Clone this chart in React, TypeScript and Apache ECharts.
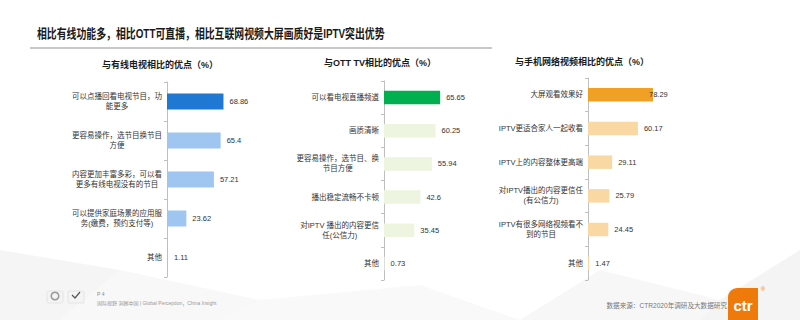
import React, { useEffect, useRef } from "react";
import * as echarts from "echarts";

const mainTitle = "相比有线功能多，相比OTT可直播，相比互联网视频大屏画质好是IPTV突出优势";

const panelTitles = ["与有线电视相比的优点（%）", "与OTT TV相比的优点（%）", "与手机网络视频相比的优点（%）"];

const cableCats = [
  "可以点播回看电视节目，功\n能更多",
  "更容易操作，选节目换节目\n方便",
  "内容更加丰富多彩，可以看\n更多有线电视没有的节目",
  "可以提供家庭场景的应用服\n务(缴费，预约支付等)",
  "其他",
];
const cableVals = [68.86, 65.4, 57.21, 23.62, 1.11];

const ottCats = [
  "可以看电视直播频道",
  "画质清晰",
  "更容易操作，选节目、换\n节目方便",
  "播出稳定流畅不卡顿",
  "对IPTV 播出的内容更信\n任(公信力)",
  "其他",
];
const ottVals = [65.65, 60.25, 55.94, 42.6, 35.45, 0.73];

const mobileCats = [
  "大屏观看效果好",
  "IPTV更适合家人一起收看",
  "IPTV上的内容整体更高端",
  "对IPTV播出的内容更信任\n(有公信力)",
  "IPTV有很多网络视频看不\n到的节目",
  "其他",
];
const mobileVals = [78.29, 60.17, 29.11, 25.79, 24.45, 1.47];

const sourceText = "数据来源：CTR2020年调研及大数据研究";
const sloganText = "国际视野 洞察中国 | Global Perception，China Insight";
const pageText = "P 4";

const FONT = "'Liberation Sans', 'Noto Sans CJK SC', sans-serif";
const LABEL_SIZE = 7.5;

export default function App() {
  const ref = useRef<HTMLDivElement>(null);

  useEffect(() => {
    document.body.style.margin = "0";
    if (!ref.current) return;
    const chart = echarts.init(ref.current, null, { renderer: "svg" });

    const canvas = document.createElement("canvas");
    const ctx = canvas.getContext("2d") as CanvasRenderingContext2D;
    ctx.font = `${LABEL_SIZE}px ${FONT}`;

    // centred multi-line category labels: pad each line so it sits in the middle of its block
    const buildRich = (cats: string[]) => {
      const rich: any = {};
      cats.forEach((c, idx) => {
        const lines = c.split("\n");
        const ws = lines.map((l) => ctx.measureText(l).width);
        const W = Math.max(...ws);
        lines.forEach((_, k) => {
          rich[`r${idx}_${k}`] = {
            align: "left",
            fontSize: LABEL_SIZE,
            lineHeight: 10,
            color: "#333333",
            fontFamily: FONT,
            padding: [0, 0, 0, (W - ws[k]) / 2],
          };
        });
      });
      return rich;
    };

    const panels = [
      { cats: cableCats, vals: cableVals, main: "#1F78D1", light: "#9EC6F0", grid: { left: 167, top: 82, width: 82, height: 195 }, barWidth: 16 },
      { cats: ottCats, vals: ottVals, main: "#00B050", light: "#EDF4E0", grid: { left: 384, top: 81, width: 85.5, height: 199 }, barWidth: 13.5 },
      { cats: mobileCats, vals: mobileVals, main: "#F0A024", light: "#FAD8A4", grid: { left: 588, top: 78, width: 83, height: 202 }, barWidth: 13.5 },
    ];

    const titlePos = [
      { x: 160, y: 65 },
      { x: 380, y: 63 },
      { x: 582, y: 62 },
    ];

    const option: any = {
      animation: false,
      backgroundColor: "#ffffff",
      textStyle: { fontFamily: FONT },
      grid: panels.map((p) => ({ ...p.grid, containLabel: false })),
      xAxis: panels.map((_, i) => ({
        type: "value",
        gridIndex: i,
        min: 0,
        max: 100,
        show: false,
      })),
      yAxis: panels.map((p, i) => ({
        type: "category",
        gridIndex: i,
        inverse: true,
        data: p.cats,
        axisLine: { show: true, lineStyle: { color: "#BFBFBF", width: 1 } },
        axisTick: { show: true, length: 3, lineStyle: { color: "#BFBFBF" } },
        axisLabel: {
          margin: 5,
          formatter: (v: string, idx: number) =>
            v
              .split("\n")
              .map((l, k) => `{r${idx}_${k}|${l}}`)
              .join("\n"),
          rich: buildRich(p.cats),
        },
      })),
      series: panels.map((p, i) => ({
        type: "bar",
        xAxisIndex: i,
        yAxisIndex: i,
        barWidth: p.barWidth,
        data: p.vals.map((v, j) => {
          const item: any = {
            value: v,
            itemStyle: { color: j === 0 ? p.main : p.light },
          };
          if (i === 2 && j === 0) item.label = { distance: -4 };
          return item;
        }),
        label: {
          show: true,
          position: "right",
          distance: 6,
          fontSize: LABEL_SIZE,
          color: "#333333",
          fontFamily: FONT,
          formatter: "{c}",
        },
      })),
      graphic: [
        // faint background facets
        {
          type: "polygon",
          silent: true,
          z: -10,
          shape: { points: [[0, 250], [120, 270], [60, 320], [0, 320]] },
          style: { fill: "#f1f1f1", opacity: 0.7 },
        },
        {
          type: "polygon",
          silent: true,
          z: -10,
          shape: { points: [[60, 320], [120, 270], [260, 300], [220, 320]] },
          style: { fill: "#f5f5f5", opacity: 0.7 },
        },
        {
          type: "polygon",
          silent: true,
          z: -10,
          shape: { points: [[260, 300], [420, 285], [520, 320], [220, 320]] },
          style: { fill: "#f7f7f7", opacity: 0.7 },
        },
        {
          type: "polygon",
          silent: true,
          z: -10,
          shape: { points: [[520, 320], [600, 270], [720, 300], [700, 320]] },
          style: { fill: "#f4f4f4", opacity: 0.7 },
        },
        {
          type: "polygon",
          silent: true,
          z: -10,
          shape: { points: [[720, 300], [800, 250], [800, 320], [700, 320]] },
          style: { fill: "#f0f0f0", opacity: 0.7 },
        },
        // main title
        {
          type: "text",
          x: 37,
          y: 33,
          scaleX: 0.76,
          style: {
            text: mainTitle,
            fontSize: 13,
            fontWeight: "bold",
            fill: "#1a1a1a",
            fontFamily: FONT,
            verticalAlign: "middle",
          },
        },
        {
          type: "line",
          shape: { x1: 30, y1: 48, x2: 492, y2: 48 },
          style: { stroke: "#C8C8C8", lineWidth: 2 },
        },
        ...panelTitles.map((t, i) => ({
          type: "text",
          x: titlePos[i].x,
          y: titlePos[i].y,
          style: {
            text: t,
            fontSize: 9,
            fontWeight: "bold",
            fill: "#1a1a1a",
            fontFamily: FONT,
            align: "center",
            verticalAlign: "middle",
          },
        })),
        // footer left logos
        {
          type: "rect",
          shape: { x: 47, y: 291, width: 16, height: 12, r: 2 },
          style: { fill: "#f4f4f4", stroke: "#d6d6d6", lineWidth: 0.5 },
        },
        {
          type: "ring",
          shape: { cx: 55, cy: 296, r: 4.5, r0: 3 },
          style: { fill: "#9a9a9a" },
        },
        {
          type: "rect",
          shape: { x: 68, y: 291, width: 16, height: 12, r: 1 },
          style: { fill: "#f4f4f4", stroke: "#d6d6d6", lineWidth: 0.5 },
        },
        {
          type: "polyline",
          shape: { points: [[72, 295], [75, 298], [80, 292]] },
          style: { stroke: "#555", lineWidth: 1.2, fill: "none" },
        },
        {
          type: "text",
          x: 97,
          y: 294,
          style: { text: pageText, fontSize: 5, fill: "#888", fontFamily: FONT, verticalAlign: "middle" },
        },
        {
          type: "text",
          x: 97,
          y: 303,
          style: { text: sloganText, fontSize: 5, fill: "#999", fontFamily: FONT, verticalAlign: "middle" },
        },
        // footer right
        {
          type: "text",
          x: 727,
          y: 305,
          style: {
            text: sourceText,
            fontSize: 6.6,
            fill: "#777",
            fontFamily: FONT,
            align: "right",
            verticalAlign: "middle",
          },
        },
        {
          type: "rect",
          shape: { x: 728, y: 288, width: 30, height: 32, r: [9, 0, 0, 0] },
          style: { fill: "#EE7A0C" },
        },
        {
          type: "text",
          x: 743,
          y: 305,
          style: {
            text: "ctr",
            fontSize: 15,
            fontWeight: "bold",
            fill: "#ffffff",
            fontFamily: FONT,
            align: "center",
            verticalAlign: "middle",
          },
        },
        {
          type: "text",
          x: 763,
          y: 289,
          style: {
            text: "®",
            fontSize: 6,
            fill: "#EE7A0C",
            fontFamily: FONT,
            align: "center",
            verticalAlign: "middle",
          },
        },
      ],
    };

    chart.setOption(option);
    return () => chart.dispose();
  }, []);

  return <div ref={ref} style={{ width: 800, height: 320 }} />;
}
